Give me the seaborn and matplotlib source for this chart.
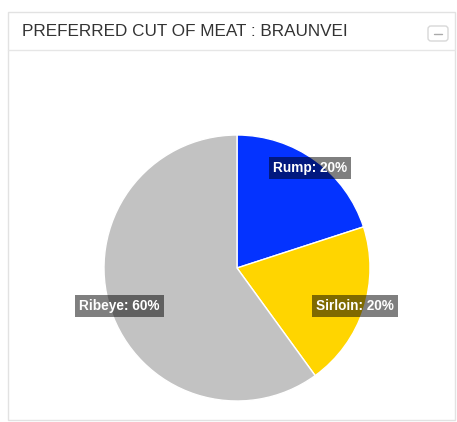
import numpy as np
import matplotlib.pyplot as plt
import matplotlib as mpl
from matplotlib.patches import Rectangle, FancyBboxPatch
import seaborn as sns

sns.set_theme(style='white')
mpl.rcParams['font.family'] = ['Liberation Sans', 'DejaVu Sans']

# data
cuts = ['Rump', 'Sirloin', 'Ribeye']
shares = [20, 20, 60]
colors = ['#0433ff', '#ffd500', '#c2c2c2']
title = 'PREFERRED CUT OF MEAT : BRAUNVEI'

W, H = 457, 422
fig = plt.figure(figsize=(W / 100, H / 100), dpi=100)
ax = fig.add_axes([0, 0, 1, 1])

# pie
cx, cy, R = 237, 154, 133
wedges, _ = ax.pie(shares, colors=colors, startangle=90, counterclock=False,
                   center=(cx, cy), radius=R, frame=True,
                   wedgeprops=dict(edgecolor='white', linewidth=1))
ax.set_xlim(0, W)
ax.set_ylim(0, H)
ax.set_aspect('equal')
ax.axis('off')

# panel frame and header
ax.add_patch(Rectangle((8, 2), 447, 408, facecolor='none', edgecolor='#e2e2e2', lw=1))
ax.plot([8, 455], [372, 372], color='#e6e6e6', lw=1)
ax.text(22, 390, title, fontsize=12.3, color='#333333', va='center', ha='left')
ax.add_patch(FancyBboxPatch((428, 381), 20, 15, boxstyle='round,pad=0,rounding_size=3',
                            facecolor='white', edgecolor='#d8d8d8', lw=1))
ax.plot([434, 442], [388.5, 388.5], color='#aaaaaa', lw=1)

total = sum(shares)
start = 90.0
for name, v in zip(cuts, shares):
    span = 360.0 * v / total
    mid = np.deg2rad(start - span / 2)
    start -= span
    x = cx + 0.93 * R * np.cos(mid)
    y = cy + 0.93 * R * np.sin(mid)
    ax.text(x, y, f'{name}: {v}%', fontsize=9.8, fontweight='bold', color='white',
            ha='center', va='center',
            bbox=dict(boxstyle='square,pad=0.3', facecolor='black', alpha=0.5, lw=0))

fig.savefig('out.png', dpi=100)
